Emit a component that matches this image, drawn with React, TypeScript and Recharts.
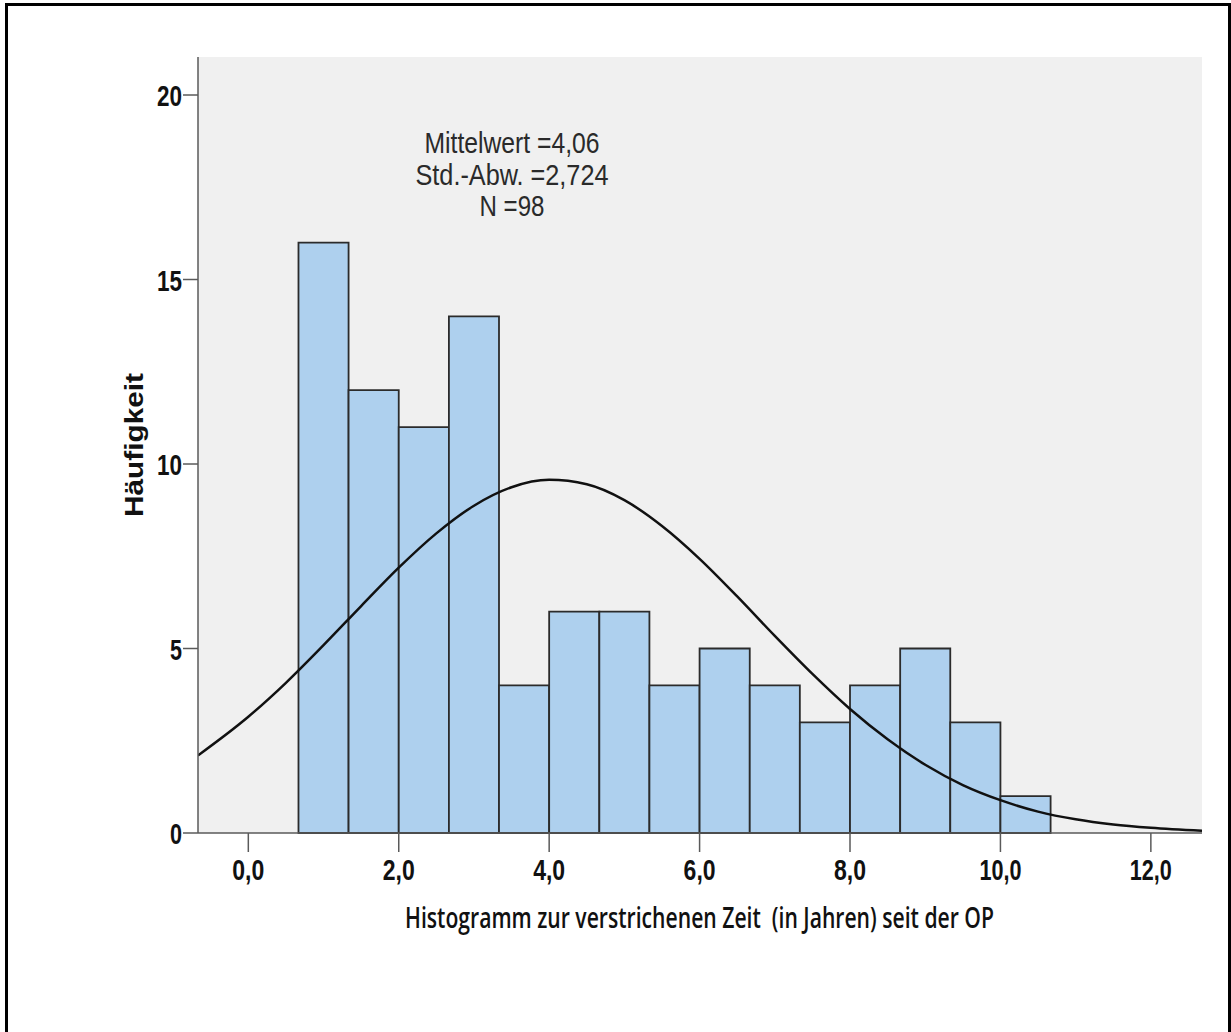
import React from 'react';
import { ComposedChart, XAxis, YAxis, Line, ReferenceArea, CartesianGrid } from 'recharts';

// Histogram bin edges (years) and counts
const binEdges = [0.667, 1.333, 2.0, 2.667, 3.333, 4.0, 4.667, 5.333, 6.0, 6.667, 7.333, 8.0, 8.667, 9.333, 10.0, 10.667];
const counts = [16, 12, 11, 14, 4, 6, 6, 4, 5, 4, 3, 4, 5, 3, 1];

// Normal curve
const curveX = [-0.67, 0, 0.5, 1, 1.5, 2, 2.5, 3, 3.5, 4, 4.5, 5, 5.5, 6, 6.5, 7, 7.5, 8, 8.5, 9, 9.5, 10, 10.5, 11, 11.5, 12, 12.68];
const curveY = [2.1, 3.15, 4.07, 5.09, 6.15, 7.19, 8.12, 8.87, 9.37, 9.57, 9.45, 9.02, 8.32, 7.43, 6.41, 5.34, 4.31, 3.36, 2.54, 1.85, 1.3, 0.89, 0.58, 0.37, 0.23, 0.14, 0.06];

const xTicks = [0, 2, 4, 6, 8, 10, 12];
const yTicks = [0, 5, 10, 15, 20];

const statsLines = ['Mittelwert =4,06', 'Std.-Abw. =2,724', 'N =98'];
const xTitle = 'Histogramm zur verstrichenen Zeit  (in Jahren) seit der OP';
const yTitle = 'Häufigkeit';

const curveData = curveX.map((x, i) => ({ x, y: curveY[i] }));

const FONT = '"Liberation Sans", Arial, sans-serif';

const XTick = (props: any) => {
  const { x, y, payload } = props;
  const label = Number(payload.value).toFixed(1).replace('.', ',');
  const len = label.length >= 4 ? 42 : 32;
  return (
    <text x={x} y={y + 26} textAnchor="middle" fontSize={30} fontWeight="bold" fontFamily={FONT} fill="#111" textLength={len} lengthAdjust="spacingAndGlyphs">
      {label}
    </text>
  );
};

const YTick = (props: any) => {
  const { x, y, payload } = props;
  const label = String(payload.value);
  const len = label.length >= 2 ? 25 : 12;
  return (
    <text x={x} y={y + 11} textAnchor="end" fontSize={30} fontWeight="bold" fontFamily={FONT} fill="#111" textLength={len} lengthAdjust="spacingAndGlyphs">
      {label}
    </text>
  );
};

const statsWidths = [175, 193, 65];
const statsBaselines = [153, 185, 216];

export default function App() {
  return (
    <div style={{ position: 'absolute', left: 0, top: 0, width: 1231, height: 1032, background: '#fff', overflow: 'hidden' }}>
      <ComposedChart width={1231} height={1032} data={curveData} margin={{ top: 57, right: 29, bottom: 139, left: 118 }}>
        <CartesianGrid horizontal={false} vertical={false} fill="#f0f0f0" stroke="none" />
        <XAxis
          type="number"
          dataKey="x"
          domain={[-0.669, 12.68]}
          allowDataOverflow
          ticks={xTicks}
          height={60}
          tickSize={19}
          tickMargin={2}
          stroke="#5a5a5a"
          strokeWidth={1.5}
          tick={<XTick />}
        />
        <YAxis
          type="number"
          domain={[0, 21.03]}
          allowDataOverflow
          ticks={yTicks}
          width={80}
          tickSize={15}
          tickMargin={1}
          stroke="#5a5a5a"
          strokeWidth={1.5}
          tick={<YTick />}
        />
        {counts.map((c, i) => (
          <ReferenceArea
            key={i}
            x1={binEdges[i]}
            x2={binEdges[i + 1]}
            y1={0}
            y2={c}
            fill="#aed0ee"
            fillOpacity={1}
            stroke="#2b2b2b"
            strokeWidth={1.8}
            ifOverflow="visible"
          />
        ))}
        <Line type="monotone" dataKey="y" stroke="#111" strokeWidth={2.5} dot={false} isAnimationActive={false} />
      </ComposedChart>
      <svg width={1231} height={1032} style={{ position: 'absolute', left: 0, top: 0, pointerEvents: 'none' }}>
        {statsLines.map((s, i) => (
          <text key={i} x={512} y={statsBaselines[i]} textAnchor="middle" fontSize={30} fontFamily={FONT} fill="#2a2a2a" textLength={statsWidths[i]} lengthAdjust="spacingAndGlyphs">
            {s}
          </text>
        ))}
        <text x={699.5} y={928} textAnchor="middle" fontSize={28} fontWeight={600} fontFamily='"Open Sans", "Liberation Sans", sans-serif' fill="#111" textLength={589} lengthAdjust="spacingAndGlyphs" style={{ whiteSpace: 'pre' }}>
          {xTitle}
        </text>
        <text transform="translate(143,445) rotate(-90)" x={0} y={0} textAnchor="middle" fontSize={25} fontWeight="bold" fontFamily={FONT} fill="#111" textLength={144} lengthAdjust="spacingAndGlyphs">
          {yTitle}
        </text>
      </svg>
      <div style={{ position: 'absolute', left: 5, top: 3, width: 1225, height: 3, background: '#000' }} />
      <div style={{ position: 'absolute', left: 5, top: 3, width: 3, height: 1040, background: '#000' }} />
      <div style={{ position: 'absolute', left: 1228, top: 3, width: 3, height: 1040, background: '#000' }} />
    </div>
  );
}
